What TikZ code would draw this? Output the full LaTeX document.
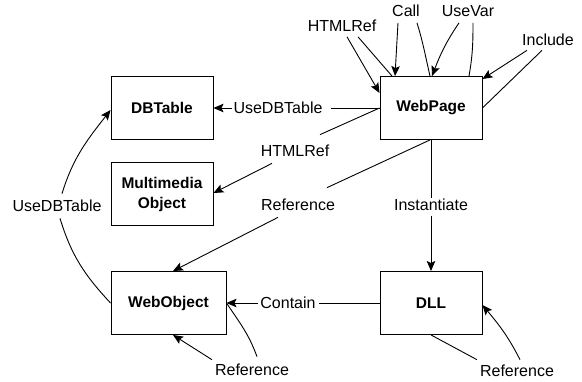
\documentclass[tikz,border=0pt]{standalone}
\usepackage{fontspec}
\setmainfont{Liberation Sans}
\usetikzlibrary{arrows.meta,calc}
\begin{document}
\begin{tikzpicture}[x=1pt,y=1pt,
  box/.style={draw,line width=0.9pt,minimum width=102pt,minimum height=63pt,inner sep=0pt,
    font=\fontsize{15.5}{20}\selectfont\bfseries,align=center},
  lbl/.style={inner sep=0pt,text height=11.3pt,text depth=0pt,font=\fontsize{16}{18}\selectfont},
  con/.style={line width=0.9pt},
  arr/.style={con,-{Stealth[length=10pt,width=8.5pt,inset=2pt]}}]
\useasboundingbox (0,0) rectangle (582,-382);
% boxes
\node[box] (wp) at (431,-108) {WebPage};
\node[box] (db) at (162,-108) {DBTable};
\node[box] (mm) at (162,-194) {Multimedia\\Object};
\node[box,minimum width=115pt] (wo) at (168.5,-303) {WebObject};
\node[box] (dll) at (431,-303) {DLL};
% labels
\node[lbl] (hr1) at (342,-26) {HTMLRef};
\node[lbl] (call) at (406,-11) {Call};
\node[lbl] (uv) at (468,-11) {UseVar};
\node[lbl] (inc) at (548,-40) {Include};
\node[lbl] (udb1) at (278,-108) {UseDBTable};
\node[lbl] (hr2) at (295,-151) {HTMLRef};
\node[lbl] (r1) at (298,-205) {Reference};
\node[lbl] (inst) at (431,-205) {Instantiate};
\node[lbl] (ct) at (288,-303) {Contain};
\node[lbl] (r2) at (252,-370) {Reference};
\node[lbl] (r3) at (517,-371) {Reference};
\node[lbl] (udb2) at (57,-206) {UseDBTable};
% HTMLRef (top)
\draw[arr] ([xshift=5,yshift=-5]hr1.south) -- ([yshift=15]wp.west);
\draw[con] ([xshift=-39]wp.north) -- ([xshift=16,yshift=-5]hr1.south);
% Call
\draw[arr] ([xshift=-8,yshift=-6]call.south) -- ([xshift=-36]wp.north);
\draw[con] ([xshift=-1]wp.north) to[out=103,in=-73] ([xshift=11,yshift=-6]call.south);
% UseVar
\draw[arr] ([xshift=-9,yshift=-6]uv.south) to[out=-124,in=69] ([xshift=1]wp.north);
\draw[con] ([xshift=38]wp.north) to[out=80,in=-90] ([xshift=5,yshift=-6]uv.south);
% Include
\draw[arr] ([xshift=-21,yshift=-4.5]inc.south) -- ([yshift=-3]wp.north east);
\draw[con] (wp.east) -- ([xshift=-6,yshift=-4.5]inc.south);
% UseDBTable
\draw[con] (wp.west) -- ([xshift=8]udb1.east);
\draw[arr] ([xshift=-1]udb1.west) -- (db.east);
% HTMLRef
\draw[con] (wp.west) -- ([xshift=25,yshift=10.5]hr2.north);
\draw[arr] ([xshift=-23,yshift=-6.5]hr2.south) -- ([yshift=1]mm.east);
% Reference (WebPage -> WebObject)
\draw[con] ([xshift=-1]wp.south) -- ([xshift=29,yshift=11.5]r1.north);
\draw[arr] ([xshift=-20,yshift=-6.5]r1.south) -- ([xshift=4.5]wo.north);
% Instantiate
\draw[con] (wp.south) -- ([yshift=1.5]inst.north);
\draw[arr] ([yshift=-5.5]inst.south) -- (dll.north);
% Contain
\draw[con] (dll.west) -- ([xshift=3]ct.east);
\draw[arr] ([xshift=-2]ct.west) -- (wo.east);
% Reference (WebObject self)
\draw[con] (wo.east) to[out=-56,in=110] ([xshift=5,yshift=7.5]r2.north);
\draw[arr] ([xshift=-3,yshift=4.5]r2.north west) -- ([xshift=4.5]wo.south);
% Reference (DLL self)
\draw[con] (dll.south) -- ([xshift=-3,yshift=5.5]r3.north west);
\draw[arr] ([xshift=3,yshift=5.5]r3.north) to[out=117,in=-50] ([yshift=-2]dll.east);
% UseDBTable (WebObject -> DBTable)
\draw[con] (wo.west) to[out=133,in=-73] ([xshift=3,yshift=-6.5]udb2.south);
\draw[arr] ([xshift=5,yshift=6.5]udb2.north) to[out=73,in=232] ([yshift=-2]db.west);
\end{tikzpicture}
\end{document}
